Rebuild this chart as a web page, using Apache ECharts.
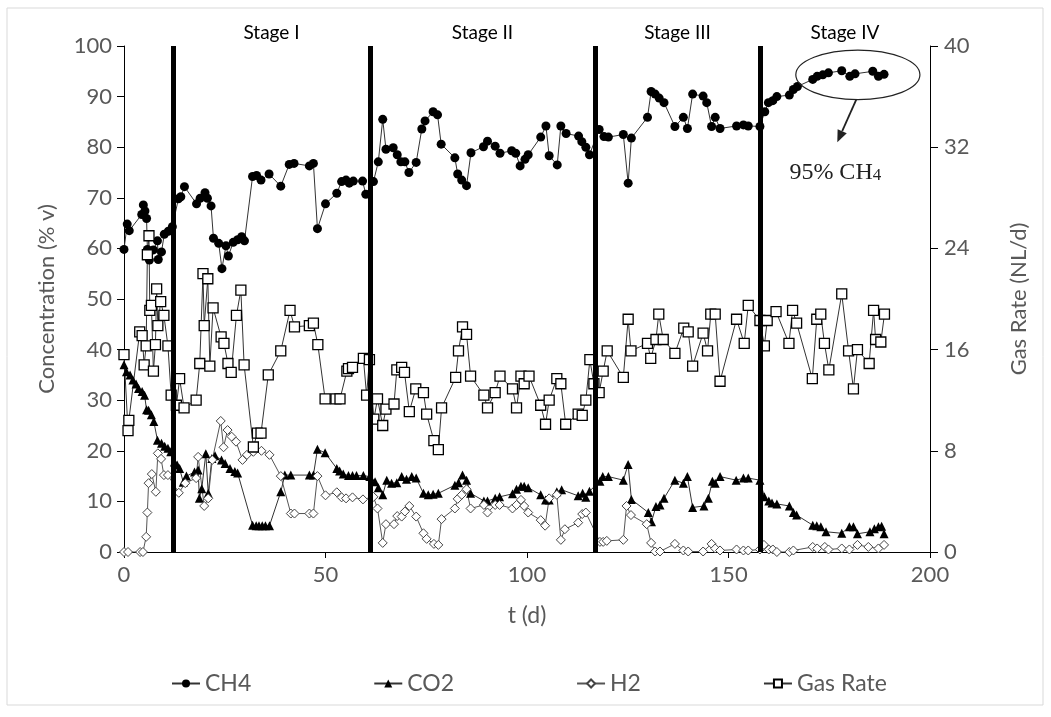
<!DOCTYPE html>
<html>
<head>
<meta charset="utf-8">
<script src="https://cdn.jsdelivr.net/npm/echarts@6/dist/echarts.min.js"></script>
<style>
  html, body { margin: 0; padding: 0; background: #fff; }
  #chart { width: 1051px; height: 717px; }
</style>
</head>
<body>
<div id="chart"></div>
<script>
// Biogas composition and production rate over the digestion period
const ch4 = [[0,59.8],[0.8,64.8],[1.3,63.5],[4.4,66.7],[4.8,68.6],[5.2,67.4],[5.6,65.9],[5.8,59.8],[6.3,57.7],[7.3,59.7],[8.3,61.5],[8.5,57.8],[9.3,59.3],[10,62.8],[11,63.4],[12,64.3],
  [13.5,69.8],[14.1,70.2],[15,72.2],[18,68.8],[18.9,69.9],[20.1,71],[20.7,69.9],[21.6,68.4],[22.2,62],[23.5,61],[24.3,56],[25.3,60.5],[25.9,58.5],[27.1,61.2],[28.2,61.7],[29.2,62.3],[29.9,61.5],
  [31.9,74.2],[32.9,74.4],[34,73.5],[36,74.7],[38.9,72.3],[41,76.6],[42.2,76.8],[46,76.3],[47,76.8],[48,63.9],[50,68.8],[52.8,70.9],[54,73.2],[55.1,73.5],[55.9,72.9],[56.9,73.3],[59.2,73.3],[60,70.7],
  [61.9,73.2],[63.1,77.1],[64.2,85.5],[65,79.6],[66.8,79.9],[67.8,78.5],[68.7,77.1],[69.7,77.1],[70.7,75],[72.5,77],[73.9,83.6],[74.7,85.2],[76.7,87],[77.8,86.4],[78.7,80.6],[82.1,77.9],[82.8,74.7],[83.8,73.5],[85,72.4],
  [86.1,78.9],[89.2,80.1],[90.2,81.2],[92.1,80.2],[93.3,78.8],[96.2,79.3],[97.2,78.8],[98.3,76.3],[99.5,77.6],[100.3,78.5],[103.4,82],[104.7,84.2],[105.5,78.3],[107.5,76.5],[108.4,84.2],[109.7,82.7],[112.8,82.2],[113.6,81.1],[114.6,80],[115.5,78.5],
  [117.9,83.5],[119.1,82.1],[120.2,82],[123.9,82.5],[125.1,72.9],[125.9,81.8],[129.9,85.9],[130.8,91],[131.8,90.5],[132.8,89.7],[134,88.8],[136.7,84.1],[138.8,85.9],[139.8,83.7],[141.1,90.5],[143.7,90.1],[144.6,88.8],[145.8,84.1],[146.7,85.9],[147.9,83.7],[152,84.2],[153.7,84.4],[154.9,84.2],[157.8,84.1],
  [159,87],[159.9,88.8],[161,89.2],[162,90],[165.1,90.3],[166.1,91.4],[167.1,92],[170.9,93.4],[172,94],[173.4,94.3],[174.8,94.7],[178.1,95.1],[180.1,94],[181.4,94.5],[185.8,95],[187.2,94],[188.6,94.4]];

const co2 = [[0,37],[0.6,35.6],[1.5,35],[2.2,34],[3,33.2],[3.6,32.3],[4.5,31.7],[5.1,31],[5.6,28.1],[6.1,28],[6.8,27.1],[7.4,25.8],[8.3,22.1],[9.3,21.5],[10.1,20.9],[10.9,20.5],[11.6,19.8],
  [12.5,17.8],[13.2,17.2],[13.8,16.5],[14.7,13.8],[15.5,15],[17.5,15.8],[18.4,16.2],[18.7,10.6],[19.3,12.5],[20.3,19.4],[20.9,11.6],[21.8,18.5],[22.6,19],[24.2,18.2],[25.1,17.5],[26.3,16.5],[27.5,15.9],[28.2,15.6],
  [31.9,5.3],[32.8,5.2],[33.5,5.2],[34.3,5.2],[35.1,5.2],[36.1,5.2],[38.9,11.9],[39.9,15.2],[41.4,15.2],[46,15.2],[47,15.2],[48,20.3],[49.9,19.6],[52.8,16.5],[53.5,16],[54.4,15.4],[55.7,15.1],[56.7,15.1],[57.7,15.1],[59.4,15.1],
  [61,14.9],[62.3,13.9],[63.1,12.7],[64.2,11.3],[65.2,14.2],[66.4,13.6],[67.7,13.7],[68.9,14.9],[70.1,14.4],[71.4,14.9],[72.5,14.6],[74.3,11.6],[75.5,11.3],[76.7,11.4],[78,11.6],[82.1,13.2],[83,13.7],[84,15.2],[85,14.2],[86,11.6],
  [89.3,10.1],[90.2,10.1],[92.1,10.6],[93.2,10.9],[96.4,11.5],[97.4,12.4],[98.5,13],[99.3,13],[100.3,12.7],[103.4,11.3],[104.6,10.3],[105.5,10.3],[107.4,11.9],[108.6,12.3],[112.7,11.1],[113.8,11.6],[114.6,10.8],[115.5,12],
  [118.1,14],[118.8,14.9],[120.2,14.9],[123.9,14.2],[125.1,17.3],[125.9,10.4],[130.1,7.8],[130.9,6],[132,9],[133,9.3],[134,10.6],[136.7,14.2],[138.8,13.6],[139.8,14.9],[141.1,8.8],[143.9,9.1],[145,10.6],[146,14],[146.7,13.6],[147.9,14.9],
  [151.9,14.2],[153.7,14.6],[154.9,14.6],[157.8,14.2],[158.9,10.9],[160,10.1],[160.8,9.7],[162,9.5],[165.1,9.1],[166.1,7.8],[166.9,7.3],[170.9,5.3],[171.9,5.2],[172.9,5],[174.2,4],[178.1,3.7],[180,5],[181,5],[182,3.6],[185.1,4],[186.2,4.6],[187.2,5],[188,5.1],[188.6,3.6]];

const h2 = [[0,0],[1,0],[4,0],[4.7,0],[5.5,3],[5.8,7.8],[6.1,13.6],[6.9,15.4],[7.9,11.9],[8.4,19.5],[9.2,18.4],[9.9,15.2],[10.9,15.2],[13.6,11.7],[15.2,13.6],[17.9,14.6],[18.4,18.8],[19.9,9.1],[20.9,10.6],[21.9,18.2],
  [24,25.9],[24.7,20.7],[25.7,24.1],[26.7,22.8],[27.8,21.8],[29.4,18.2],[30.5,19.2],[32.1,19.8],[34.1,20],[36.1,19.2],[38.9,15],[41.4,7.6],[42.3,7.6],[46,7.6],[47,7.6],[48,15],[50,11.2],[52.8,11.8],[54,10.8],[55.1,10.6],[56.7,10.8],[59.3,10.4],
  [61.9,10.9],[62.9,8.6],[64.2,1.8],[65,5.5],[67,5.5],[67.8,7.1],[68.9,7],[69.7,8],[70.8,9.1],[72.5,7],[74.3,3.7],[75.1,2.6],[76.9,1.6],[78,1.4],[78.8,6.5],[82.1,8.6],[82.8,10.5],[83.8,11.3],[85,12.4],[86,8.6],
  [89.3,9.3],[90.2,7.8],[92.1,9.3],[93.2,9.3],[96.4,8.6],[97.4,9.3],[98.5,10.3],[99.3,9.1],[100.3,7.8],[103.4,6.3],[104.5,5.2],[105.5,10.6],[107.4,11.3],[108.4,2.4],[109.4,4.5],[112.7,5.8],[113.7,7.5],[114.6,7.8],
  [118.1,2],[118.9,2],[119.8,2.2],[123.9,2.4],[124.7,9.1],[125.8,7.3],[129.7,5.5],[130.8,1.8],[131.8,0.1],[133,0.1],[136.7,1.6],[138.8,0.3],[140,0.1],[143.7,0.1],[145.8,1.6],[146.7,0.7],[147.9,0.3],[152,0.5],[153.7,0.3],[154.9,0.3],
  [157.8,0.5],[158.8,1.4],[160,0.5],[161,0.5],[162,0],[165.1,0],[166.1,0.3],[170.9,1],[172,0.7],[173.9,1],[174.8,0.5],[178.1,0.7],[180,0.5],[182,1.4],[184.7,1],[187.2,0.7],[188.6,1.4]];

const gasRate = [[0,15.6],[1,9.6],[1.2,10.4],[3.9,17.4],[4.5,17.1],[5,14.8],[5.5,16.3],[5.8,23.5],[6.2,25],[6.4,19.1],[6.8,19.5],[7.3,14.3],[7.8,16.4],[8.1,20.8],[8.4,17.9],[9.1,19.8],[9.9,18.7],[10.9,16.3],
  [11.7,12.4],[13,11.6],[13.8,13.7],[14.9,11.4],[17.9,12],[18.8,14.9],[19.6,22],[19.9,17.9],[20.8,21.6],[21.3,14.7],[22.1,19.3],[24.1,17],[24.8,16.5],[25.8,14.9],[26.6,14.2],[27.9,18.7],[29,20.7],[29.8,14.8],
  [32.1,8.3],[33.1,9.4],[34,9.4],[35.8,14],[38.9,15.9],[41.2,19.1],[42.3,17.8],[46,17.9],[47,18.1],[48.1,16.4],[49.9,12.1],[52.6,12.1],[53.6,12.1],[55.3,14.3],[55.7,14.5],[56.7,14.6],[59.4,15.3],[60.2,12.4],[60.9,15.2],
  [62,10.5],[62.9,12.1],[64.2,10],[65,11.3],[67,11.7],[67.7,14.4],[68.9,14.6],[69.6,14.2],[70.8,11.1],[72.4,12.9],[74.3,12.6],[75.1,10.9],[76.9,8.8],[78,8.1],[78.8,11.4],[82.3,13.8],[83,15.9],[84,17.8],[85,17.2],[86,13.9],
  [89.3,12.4],[90.2,11.4],[92.1,12.6],[93.3,13.9],[96.4,12.9],[97.4,11.4],[98.5,13.9],[99.3,13.3],[100.5,13.9],[103.4,11.6],[104.6,10.1],[105.5,12],[107.4,13.7],[108.4,13.3],[109.6,10.1],[112.7,10.9],[113.7,10.8],[114.6,12],[115.6,15.2],
  [116.6,13.3],[117.9,12.6],[118.9,14.3],[119.9,15.9],[123.9,13.8],[125.1,18.4],[125.8,15.9],[129.9,16.5],[130.7,15.3],[132,16.8],[132.7,18.8],[133.8,16.8],[136.7,15.7],[138.9,17.7],[140,17.4],[141.1,14.7],[143.7,17.3],[144.8,15.9],
  [145.6,18.8],[146.7,18.8],[147.9,13.5],[152,18.4],[153.9,16.5],[154.9,19.5],[157.8,18.3],[158.9,16.3],[159.6,18.3],[161.8,19],[165,16.5],[165.9,19.1],[166.9,18.1],[170.8,13.7],[171.9,18.4],[172.9,18.8],[173.8,16.5],[174.9,14.4],
  [178.1,20.4],[179.8,15.9],[181,12.9],[182,16],[184.9,14.9],[186,19.1],[186.5,16.8],[187.8,16.6],[188.7,18.8]];

// Stage boundaries (days) and stage names
const stageBounds = [12.2, 61, 116.9, 157.8, 200];
const stageNames = ['Stage I', 'Stage II', 'Stage III', 'Stage IV'];

const seriesNames = ['CH4', 'CO2', 'H2', 'Gas Rate'];
const annotationText = '95% CH';
const annotationSub = '4';

const labelFont = 'Lato, "Open Sans", sans-serif';
const grey = '#595959';

const chart = echarts.init(document.getElementById('chart'), null, { renderer: 'canvas' });

const stageAreas = stageNames.map((n, i) => [{ name: n, xAxis: stageBounds[i] }, { xAxis: stageBounds[i + 1] }]);
const stageLines = stageBounds.slice(0, 4).map(d => ({ xAxis: d }));

const lineStyle = { color: '#333', width: 1 };

const option = {
  animation: false,
  backgroundColor: '#fff',
  textStyle: { fontFamily: labelFont },
  grid: { left: 124, right: 121, top: 46, bottom: 165 },
  legend: {
    left: 166, top: 667,
    itemGap: 122, itemWidth: 28, itemHeight: 10,
    textStyle: { color: grey, fontSize: 23, fontFamily: labelFont },
    data: seriesNames
  },
  xAxis: {
    type: 'value', min: 0, max: 200, interval: 50,
    name: 't (d)', nameLocation: 'middle', nameGap: 52,
    nameTextStyle: { color: grey, fontSize: 23, fontFamily: labelFont },
    axisLine: { show: true, lineStyle: { color: '#000', width: 1 } },
    axisTick: { show: true, inside: false, length: 6, lineStyle: { color: '#000' } },
    axisLabel: { color: grey, fontSize: 22, margin: 12, fontFamily: labelFont },
    splitLine: { show: false }
  },
  yAxis: [{
    type: 'value', min: 0, max: 100, interval: 10,
    name: 'Concentration (% v)', nameLocation: 'middle', nameGap: 66, nameRotate: 90,
    nameTextStyle: { color: grey, fontSize: 22, fontFamily: labelFont },
    axisLine: { show: true, lineStyle: { color: '#000', width: 1 } },
    axisTick: { show: true, length: 7, lineStyle: { color: '#000' } },
    axisLabel: { color: grey, fontSize: 22, margin: 12, fontFamily: labelFont },
    splitLine: { show: false }
  }, {
    type: 'value', min: 0, max: 40, interval: 8, position: 'right',
    name: 'Gas Rate (NL/d)', nameLocation: 'middle', nameGap: 78, nameRotate: 90,
    nameTextStyle: { color: grey, fontSize: 22, fontFamily: labelFont },
    axisLine: { show: true, lineStyle: { color: '#000', width: 1 } },
    axisTick: { show: true, length: 8, lineStyle: { color: '#000' } },
    axisLabel: { color: grey, fontSize: 22, margin: 14, fontFamily: labelFont },
    splitLine: { show: false }
  }],
  series: [{
    name: 'CH4', type: 'line', data: ch4, yAxisIndex: 0,
    symbol: 'circle', symbolSize: 9,
    itemStyle: { color: '#000' }, lineStyle: lineStyle,
    markLine: {
      silent: true, symbol: ['none', 'none'], animation: false,
      label: { show: false },
      lineStyle: { color: '#000', width: 5, type: 'solid' },
      emphasis: { disabled: true },
      data: stageLines
    },
    markArea: {
      silent: true,
      itemStyle: { color: 'rgba(0,0,0,0)' },
      label: { show: true, position: 'top', distance: 4, color: '#000', fontSize: 19, fontFamily: labelFont },
      data: stageAreas
    }
  }, {
    name: 'CO2', type: 'line', data: co2, yAxisIndex: 0,
    symbol: 'triangle', symbolSize: 9,
    itemStyle: { color: '#000' }, lineStyle: lineStyle
  }, {
    name: 'H2', type: 'line', data: h2, yAxisIndex: 0,
    symbol: 'diamond', symbolSize: 9,
    itemStyle: { color: '#fff', borderColor: '#444', borderWidth: 1 }, lineStyle: { color: '#555', width: 1 }
  }, {
    name: 'Gas Rate', type: 'line', data: gasRate, yAxisIndex: 1,
    symbol: 'rect', symbolSize: 10,
    itemStyle: { color: '#fff', borderColor: '#000', borderWidth: 1.3 }, lineStyle: lineStyle
  }]
};

chart.setOption(option);

// Annotation around the final-stage methane plateau
const c = chart.convertToPixel({ gridIndex: 0 }, [182.1, 94.3]);
const edge = chart.convertToPixel({ gridIndex: 0 }, [197.5, 89.4]);
const rx = edge[0] - c[0], ry = edge[1] - c[1];
const tail = chart.convertToPixel({ gridIndex: 0 }, [181.7, 89.4]);
const tip = chart.convertToPixel({ gridIndex: 0 }, [177, 81]);
const txt = chart.convertToPixel({ gridIndex: 0 }, [176.5, 75]);
const ang = Math.atan2(tip[1] - tail[1], tip[0] - tail[0]);
const hl = 12, hw = 5;
const bx = tip[0] - hl * Math.cos(ang), by = tip[1] - hl * Math.sin(ang);
const px = -Math.sin(ang) * hw, py = Math.cos(ang) * hw;

chart.setOption({
  graphic: [
    { type: 'rect', shape: { x: 7, y: 8, width: 1036, height: 697 }, style: { fill: 'none', stroke: '#d9d9d9', lineWidth: 1 }, silent: true, z: -1 },
    { type: 'ellipse', shape: { cx: c[0], cy: c[1], rx: rx, ry: ry }, style: { fill: 'none', stroke: '#222', lineWidth: 1.2 }, silent: true, z: 100 },
    { type: 'line', shape: { x1: tail[0], y1: tail[1], x2: bx, y2: by }, style: { stroke: '#222', lineWidth: 1.8 }, silent: true, z: 100 },
    { type: 'polygon', shape: { points: [[tip[0], tip[1]], [bx + px, by + py], [bx - px, by - py]] }, style: { fill: '#222' }, silent: true, z: 100 },
    { type: 'text', x: txt[0], y: txt[1], silent: true, z: 100,
      style: {
        text: annotationText + '{s|' + annotationSub + '}',
        fill: '#222', font: '24px "Liberation Serif", "Times New Roman", serif',
        align: 'center', verticalAlign: 'middle',
        rich: { s: { fontSize: 17, fontFamily: '"Liberation Serif", serif', fill: '#222', padding: [7, 0, 0, 0] } }
      } }
  ]
});
</script>
</body>
</html>
